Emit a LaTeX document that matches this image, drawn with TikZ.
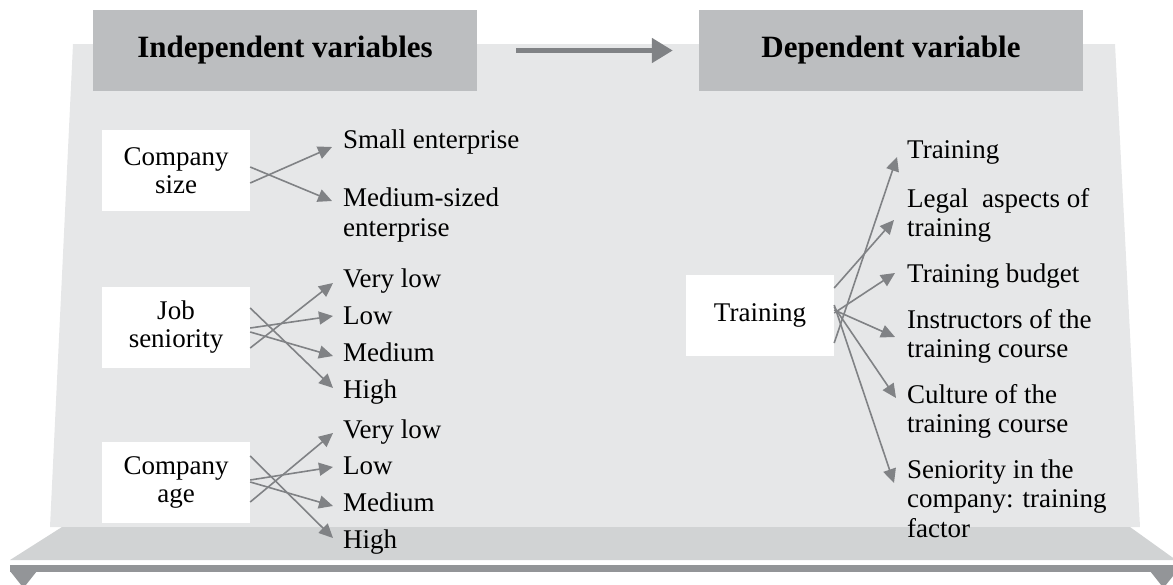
\documentclass[tikz,border=0pt]{standalone}
\usepackage{fontspec}
\setmainfont{Liberation Serif}
\usetikzlibrary{arrows.meta,calc}
\definecolor{panelgray}{HTML}{E6E7E8}
\definecolor{bandgray}{HTML}{D1D3D4}
\definecolor{headgray}{HTML}{BCBEC0}
\definecolor{bargray}{HTML}{939598}
\definecolor{arrowgray}{HTML}{808285}
\begin{document}
\begin{tikzpicture}[x=1pt,y=-1pt,
  box/.style={fill=white, minimum width=148pt, minimum height=81pt, inner sep=0pt,
    align=center, font=\fontsize{27}{28}\selectfont},
  head/.style={fill=headgray, minimum width=384pt, minimum height=81pt, inner sep=0pt,
    font=\fontsize{31}{34}\selectfont\bfseries},
  lbl/.style={anchor=base west, inner sep=0pt, align=left, font=\fontsize{27}{29.5}\selectfont},
  conn/.style={draw=arrowgray, line width=1.6pt, -{Triangle[length=14pt,width=13pt]}},
  bigarrow/.style={draw=arrowgray, line width=5pt, -{Triangle[length=21pt,width=24pt]}}]
\useasboundingbox (0,0) rectangle (1173,584);

% stage: panel, floor band and base bar
\fill[panelgray] (73,44) -- (1115,44) -- (1140,527) -- (50,527) -- cycle;
\fill[bandgray] (62,527) -- (1130,527) -- (1176,560) -- (10,560) -- cycle;
\fill[bargray] (10,565) rectangle (1173,572);
\fill[bargray] (10,571) -- (37,571) -- (23.5,588) -- cycle;
\fill[bargray] (1150,571) -- (1177,571) -- (1163.5,588) -- cycle;

% headers
\node[head] (ind) at (285,50.5) {Independent variables};
\node[head] (dep) at (891,50.5) {Dependent variable};
\draw[bigarrow] ([xshift=39pt]ind.east) -- ([xshift=-26pt]dep.west);

% independent variables
\node[box] (cs) at (176,170.5) {Company\\size};
\node[box] (js) at (176,327.5) {Job\\seniority};
\node[box] (ca) at (176,482.5) {Company\\age};

% single-line labels sit on their baseline; multi-line ones on the last line's baseline
\node[lbl] (small) at (343,148) {Small enterprise};
\node[lbl] (mse) at (343,236) {Medium-sized\\enterprise};

\node[lbl] (jvl) at (343,287) {Very low};
\node[lbl] (jl)  at (343,324) {Low};
\node[lbl] (jm)  at (343,361) {Medium};
\node[lbl] (jh)  at (343,398) {High};

\node[lbl] (avl) at (343,438) {Very low};
\node[lbl] (al)  at (343,474) {Low};
\node[lbl] (am)  at (343,511) {Medium};
\node[lbl] (ah)  at (343,548) {High};

\draw[conn] ($(cs.east)+(0,12.5)$) -- ($(small.base west)+(-11,-1)$);
\draw[conn] ($(cs.east)+(0,-3.5)$) -- ($(mse.base west)+(-11,-35)$);

\draw[conn] ($(js.east)+(0,-19.5)$) -- ($(jh.base west)+(-10,-10)$);
\draw[conn] ($(js.east)+(0,0.5)$) -- ($(jl.base west)+(-10,-8)$);
\draw[conn] ($(js.east)+(0,4.5)$) -- ($(jm.base west)+(-10,-5)$);
\draw[conn] ($(js.east)+(0,20.5)$) -- ($(jvl.base west)+(-10,-4)$);

\draw[conn] ($(ca.east)+(0,-26.5)$) -- ($(ah.base west)+(-10,-10)$);
\draw[conn] ($(ca.east)+(0,-2.5)$) -- ($(al.base west)+(-10,-7)$);
\draw[conn] ($(ca.east)+(0,-0.5)$) -- ($(am.base west)+(-10,-5)$);
\draw[conn] ($(ca.east)+(0,19.5)$) -- ($(avl.base west)+(-10,-5)$);

% dependent variable
\node[box] (tr) at (760,315.5) {Training};

\node[lbl] (r1) at (907,158) {Training};
\node[lbl] (r2) at (907,236.5) {Legal\ \ aspects of\\training};
\node[lbl] (r3) at (907,282) {Training budget};
\node[lbl] (r4) at (907,357.5) {Instructors of the\\training course};
\node[lbl] (r5) at (907,432.5) {Culture of the\\training course};
\node[lbl] (r6) at (907,537) {Seniority in the\\company: training\\factor};

\draw[conn] ($(tr.east)+(0,27.5)$) -- ($(r1.base west)+(-10,-1)$);
\draw[conn] ($(tr.east)+(0,-27.5)$) -- ($(r2.base west)+(-13,-16.5)$);
\draw[conn] ($(tr.east)+(0,-2.5)$) -- ($(r3.base west)+(-12,-9)$);
\draw[conn] ($(tr.east)+(0,-5.5)$) -- ($(r4.base west)+(-12,-20.5)$);
\draw[conn] ($(tr.east)+(0,-8.5)$) -- ($(r5.base west)+(-11,-34.5)$);
\draw[conn] ($(tr.east)+(0,-10.5)$) -- ($(r6.base west)+(-13,-54)$);
\end{tikzpicture}
\end{document}
